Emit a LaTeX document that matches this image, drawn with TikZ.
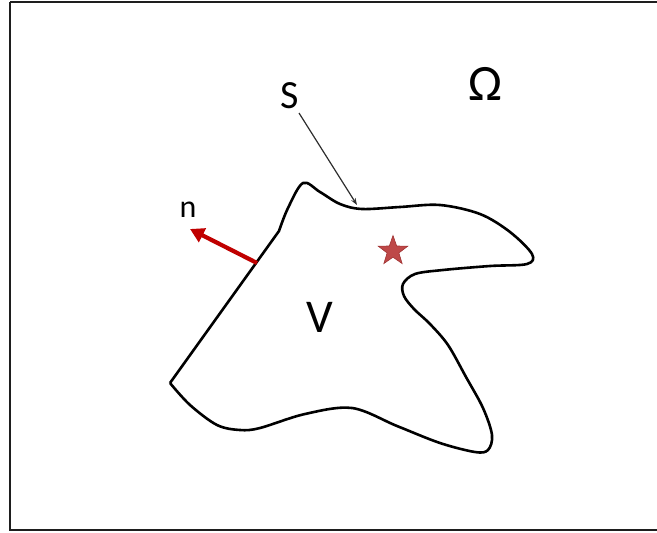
\documentclass[tikz,border=0pt]{standalone}
\usepackage{fontspec}
\setmainfont{Carlito}
\usetikzlibrary{arrows.meta,shapes.geometric}
\begin{document}
\begin{tikzpicture}[x=1pt,y=-1pt,
  lbl/.style={anchor=base,inner sep=0pt,text=black},
  bound/.style={line width=2.6pt,line join=round},
  frame/.style={line width=2.8pt,draw={rgb,255:red,30;green,30;blue,30}}]
\useasboundingbox (0,0) rectangle (657,533);
\draw[frame] (10,2) -- (660,2) (10,2) -- (10,530) -- (660,530);
% boundary of V
\draw[bound] (170,383) -- (279,231)
  plot[smooth,tension=0.55] coordinates {(279,231) (288,208) (303,183) (320,192) (340,204) (362,209) (400,207) (440,205) (480,214) (510,232) (532,254) (527,264) (490,266) (443,270) (415,274) (403,284) (404,296) (414,309) (430,324) (448,345) (466,377) (483,408) (492,435) (488,450) (475,452) (440,443) (397,426) (352,408) (305,414) (260,428) (240,430) (217,425) (190,405) (170,383)};
% labels
\node[lbl,font=\fontsize{51}{54}\selectfont] (omega) at (485,100) {Ω};
\node[lbl,font=\fontsize{40}{44}\selectfont] (S) at (289.5,108) {S};
\node[lbl,font=\fontsize{47}{50}\selectfont] (V) at (320,332) {V};
\node[lbl,font=\fontsize{32}{36}\selectfont] (n) at (188,217) {n};
% star
\node[star,star points=5,star point ratio=2.5,minimum size=31pt,inner sep=0pt,
  fill={rgb,255:red,190;green,72;blue,72},draw={rgb,255:red,160;green,50;blue,50},line width=0.6pt] (star) at (393,251) {};
% arrows
\coordinate (sfrom) at (299,113);
\coordinate (sto) at (357,205);
\draw[line width=1.2pt,draw={rgb,255:red,45;green,45;blue,45},-{Stealth[length=7pt,width=5pt]}] (sfrom) -- (sto);
\coordinate (nfrom) at (257,263);
\coordinate (nto) at (190,229);
\draw[line width=4.2pt,draw={rgb,255:red,192;green,0;blue,0},-{Triangle[length=14pt,width=15pt]}] (nfrom) -- (nto);
\end{tikzpicture}
\end{document}
